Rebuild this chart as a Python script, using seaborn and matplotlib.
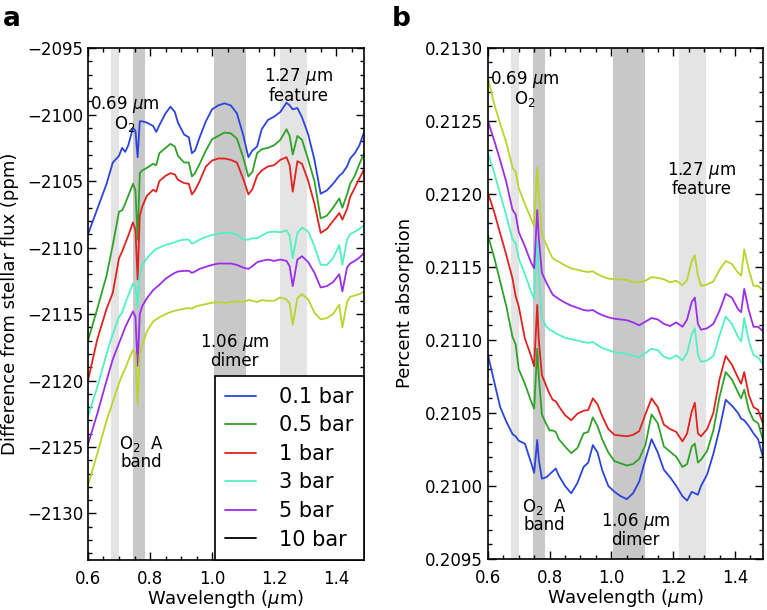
import matplotlib
matplotlib.use("Agg")
import matplotlib.pyplot as plt
import matplotlib.ticker as mticker
from matplotlib.lines import Line2D
import pandas as pd
import seaborn as sns


# Series labels and colours (the legend shows 10 bar in black)
PRESSURES = ["0.1 bar", "0.5 bar", "1 bar", "3 bar", "5 bar", "10 bar"]
LINE_COLORS = ["#2b45dc", "#2fa22a", "#e2221f", "#52f0c3", "#9a2eea", "#b9d52c"]
LEGEND_COLORS = LINE_COLORS[:5] + ["black"]

# Shaded absorption bands (start, end, shade)
BANDS = [(0.675, 0.70, "#e4e4e4"), (0.745, 0.785, "#c8c8c8"),
         (1.005, 1.11, "#c8c8c8"), (1.22, 1.305, "#e4e4e4")]


# Panel a: difference from stellar flux (ppm)
wl_a = [0.60, 0.63, 0.66, 0.68, 0.70, 0.71, 0.72, 0.73, 0.745, 0.753,
        0.76, 0.767, 0.775, 0.79, 0.81, 0.82, 0.83, 0.85, 0.866, 0.88,
        0.89, 0.91, 0.925, 0.935, 0.945, 0.96, 0.98, 1.00, 1.02, 1.04,
        1.06, 1.08, 1.10, 1.117, 1.13, 1.145, 1.16, 1.18, 1.20, 1.22,
        1.24, 1.25, 1.26, 1.275, 1.29, 1.31, 1.33, 1.35, 1.37, 1.39,
        1.41, 1.42, 1.435, 1.445, 1.46, 1.475, 1.49]

a_01 = [-2109.0, -2107.1, -2105.2, -2103.6, -2103.1, -2102.5, -2102.8, -2102.3, -2101.0, -2101.2,
        -2103.2, -2100.5, -2100.5, -2100.6, -2100.85, -2101.3, -2100.8, -2099.9, -2099.4, -2099.8,
        -2100.6, -2101.5, -2101.7, -2102.9, -2102.7, -2101.7, -2100.5, -2099.6, -2099.3, -2099.15,
        -2099.3, -2099.9, -2101.5, -2103.2, -2102.7, -2102.4, -2101.1, -2100.4, -2100.15, -2099.8,
        -2099.1, -2099.3, -2099.6, -2099.5, -2100.2, -2101.5, -2103.4, -2105.95, -2105.7, -2105.2,
        -2104.6, -2104.4, -2103.9, -2103.3, -2102.9, -2102.3, -2101.3]
a_05 = [-2117.0, -2114.6, -2112.1, -2109.8, -2107.3, -2107.2, -2106.7, -2106.1, -2105.2, -2105.7,
        -2109.4, -2104.4, -2104.2, -2104.0, -2103.7, -2103.8, -2102.9, -2102.5, -2102.2, -2102.4,
        -2103.1, -2103.6, -2103.6, -2104.65, -2104.4, -2103.7, -2102.7, -2101.85, -2101.6, -2101.35,
        -2101.4, -2101.8, -2103.2, -2104.65, -2104.3, -2102.9, -2102.6, -2102.5, -2102.3, -2101.9,
        -2101.1, -2101.6, -2103.0, -2101.6, -2101.9, -2103.4, -2105.0, -2107.8, -2107.6, -2107.0,
        -2106.3, -2107.0, -2106.0, -2105.2, -2104.6, -2103.7, -2102.9]
a_1 = [-2120.0, -2116.9, -2114.6, -2113.4, -2110.8, -2110.3, -2109.7, -2109.1, -2108.1, -2108.65,
       -2112.4, -2107.6, -2106.9, -2106.1, -2105.65, -2105.8, -2105.0, -2104.6, -2104.4, -2104.5,
       -2104.9, -2105.15, -2105.2, -2106.0, -2105.7, -2105.0, -2103.9, -2103.45, -2103.3, -2103.3,
       -2103.4, -2103.6, -2104.8, -2106.0, -2105.6, -2104.6, -2104.2, -2103.9, -2103.8, -2103.4,
       -2103.2, -2103.8, -2105.8, -2103.5, -2103.7, -2105.0, -2106.7, -2108.9, -2108.6, -2108.0,
       -2107.4, -2107.9, -2107.1, -2106.2, -2105.5, -2104.8, -2104.1]
a_3 = [-2122.7, -2120.5, -2118.0, -2116.5, -2115.2, -2114.9, -2114.2, -2113.6, -2112.7, -2112.9,
       -2114.5, -2112.0, -2111.3, -2110.8, -2110.3, -2110.1, -2110.0, -2109.8, -2109.7, -2109.6,
       -2109.5, -2109.4, -2109.4, -2109.7, -2109.6, -2109.4, -2109.2, -2109.05, -2108.95, -2108.9,
       -2108.9, -2109.0, -2109.4, -2109.4, -2109.3, -2109.3, -2109.1, -2108.85, -2108.8, -2108.85,
       -2108.7, -2109.1, -2110.8, -2108.9, -2108.5, -2108.8, -2109.9, -2111.3, -2111.3, -2110.8,
       -2109.8, -2111.3, -2109.4, -2109.0, -2108.8, -2108.6, -2108.3]
a_5 = [-2124.8, -2122.5, -2120.0, -2118.4, -2117.2, -2116.6, -2116.0, -2115.5, -2114.8, -2115.2,
       -2118.9, -2115.0, -2114.4, -2113.8, -2113.2, -2113.0, -2112.8, -2112.35, -2112.1, -2111.9,
       -2111.8, -2111.75, -2111.75, -2111.9, -2111.8, -2111.6, -2111.45, -2111.3, -2111.2, -2111.2,
       -2111.2, -2111.3, -2111.5, -2111.6, -2111.4, -2111.1, -2111.0, -2110.9, -2111.0, -2110.9,
       -2111.0, -2111.4, -2112.9, -2110.9, -2110.65, -2111.1, -2111.9, -2113.0, -2112.9, -2112.6,
       -2112.0, -2113.3, -2111.5, -2111.2, -2111.0, -2110.75, -2110.4]
a_10 = [-2127.9, -2125.5, -2123.0, -2121.6, -2120.2, -2119.6, -2119.1, -2118.5, -2117.7, -2118.0,
        -2121.8, -2118.0, -2117.3, -2116.3, -2115.55, -2115.4, -2115.25, -2115.0, -2114.85, -2114.75,
        -2114.7, -2114.6, -2114.55, -2114.6, -2114.45, -2114.35, -2114.25, -2114.15, -2114.1, -2114.15,
        -2114.1, -2114.05, -2114.1, -2113.95, -2114.0, -2114.1, -2113.95, -2114.0, -2114.0, -2113.75,
        -2113.9, -2114.2, -2115.8, -2113.8, -2113.5, -2113.9, -2114.9, -2115.4, -2115.3, -2115.0,
        -2114.3, -2116.0, -2114.1, -2113.7, -2113.6, -2113.5, -2113.3]


# Panel b: percent absorption
wl_b = [0.60, 0.62, 0.64, 0.66, 0.68, 0.69, 0.70, 0.72, 0.74, 0.75,
        0.76, 0.765, 0.775, 0.79, 0.80, 0.81, 0.82, 0.83, 0.85, 0.87,
        0.89, 0.91, 0.925, 0.94, 0.955, 0.97, 0.99, 1.01, 1.03, 1.05,
        1.07, 1.09, 1.11, 1.13, 1.15, 1.17, 1.19, 1.21, 1.23, 1.245,
        1.26, 1.27, 1.28, 1.29, 1.31, 1.33, 1.35, 1.37, 1.39, 1.41,
        1.42, 1.43, 1.445, 1.46, 1.475, 1.49]

b_01 = [0.21090, 0.21072, 0.21054, 0.21044, 0.210355, 0.21034, 0.21031, 0.21029, 0.21016, 0.21009,
        0.210315, 0.21018, 0.21005, 0.21006, 0.21008, 0.21010, 0.21012, 0.21007, 0.21000, 0.20995,
        0.21002, 0.21013, 0.21016, 0.21028, 0.21023, 0.21011, 0.21000, 0.20996, 0.20993, 0.20991,
        0.20995, 0.21003, 0.21018, 0.21032, 0.21023, 0.21011, 0.21006, 0.21000, 0.20993, 0.20990,
        0.20996, 0.20995, 0.20994, 0.21000, 0.21008, 0.21022, 0.21039, 0.21059, 0.21055, 0.21050,
        0.21046, 0.21045, 0.21041, 0.21036, 0.21032, 0.21020]
b_05 = [0.21172, 0.21157, 0.21140, 0.21123, 0.21102, 0.21097, 0.21080, 0.21070, 0.21058, 0.21053,
        0.21094, 0.21075, 0.21049, 0.21042, 0.21038, 0.21038, 0.21037, 0.21032, 0.21027, 0.210225,
        0.21026, 0.21036, 0.21037, 0.21047, 0.21041, 0.21032, 0.21023, 0.21017, 0.210155, 0.21014,
        0.21015, 0.210185, 0.21028, 0.21049, 0.21043, 0.21027, 0.210235, 0.21020, 0.21013, 0.21015,
        0.21027, 0.21029, 0.21016, 0.21018, 0.21024, 0.21038, 0.21061, 0.21078, 0.21073, 0.21064,
        0.21060, 0.21066, 0.21052, 0.21045, 0.21043, 0.21032]
b_1 = [0.21201, 0.21188, 0.21173, 0.21158, 0.21142, 0.21130, 0.21123, 0.21101, 0.21089, 0.21082,
       0.21124, 0.21100, 0.21076, 0.21068, 0.21063, 0.21059, 0.21058, 0.210545, 0.210485, 0.21045,
       0.210495, 0.210515, 0.21052, 0.21060, 0.21056, 0.21048, 0.21039, 0.21035, 0.210345, 0.21034,
       0.21035, 0.210375, 0.21049, 0.21060, 0.21054, 0.21042, 0.21039, 0.21037, 0.210305, 0.21036,
       0.21051, 0.21057, 0.21036, 0.21034, 0.21039, 0.21050, 0.21073, 0.21089, 0.21083, 0.21074,
       0.21070, 0.21078, 0.21062, 0.21054, 0.21052, 0.21043]
b_3 = [0.21228, 0.21215, 0.21200, 0.21185, 0.21169, 0.21166, 0.21156, 0.21145, 0.21133, 0.21128,
       0.21168, 0.21145, 0.21115, 0.21109, 0.21107, 0.21106, 0.211045, 0.211035, 0.211015, 0.211005,
       0.210995, 0.210985, 0.21098, 0.210985, 0.210965, 0.210945, 0.21093, 0.210915, 0.21091, 0.210905,
       0.21089, 0.21088, 0.21091, 0.21094, 0.21093, 0.210885, 0.21087, 0.210895, 0.21086, 0.21091,
       0.21104, 0.21108, 0.21090, 0.21085, 0.21086, 0.21089, 0.21103, 0.21116, 0.21111, 0.21102,
       0.21099, 0.21115, 0.21099, 0.210895, 0.21088, 0.210835]
b_5 = [0.21250, 0.21237, 0.21223, 0.21208, 0.21189, 0.21186, 0.21174, 0.21164, 0.21153, 0.21149,
       0.21189, 0.21170, 0.21146, 0.21139, 0.21135, 0.21131, 0.211295, 0.21128, 0.211255, 0.211235,
       0.21122, 0.211205, 0.21120, 0.211205, 0.211185, 0.21117, 0.211155, 0.211145, 0.21114, 0.211135,
       0.21112, 0.21110, 0.211125, 0.21115, 0.21114, 0.21111, 0.211095, 0.21112, 0.21109, 0.21114,
       0.21126, 0.21129, 0.21111, 0.21107, 0.21108, 0.21111, 0.21120, 0.211315, 0.21129, 0.21121,
       0.21119, 0.21135, 0.21120, 0.21109, 0.21109, 0.21106]
b_10 = [0.21280, 0.21262, 0.21248, 0.21235, 0.21218, 0.21215, 0.21204, 0.21193, 0.21183, 0.21178,
        0.21218, 0.21200, 0.21172, 0.21165, 0.21160, 0.21156, 0.211545, 0.211535, 0.21151, 0.21149,
        0.21148, 0.21147, 0.211465, 0.21147, 0.21145, 0.211435, 0.21142, 0.211415, 0.211415, 0.21141,
        0.211395, 0.211395, 0.211405, 0.21143, 0.211425, 0.211415, 0.211395, 0.211405, 0.211375, 0.21141,
        0.21154, 0.21158, 0.21144, 0.21137, 0.21138, 0.21140, 0.21148, 0.21154, 0.21152, 0.21146,
        0.21144, 0.21162, 0.21148, 0.21137, 0.21137, 0.21134]


def long_frame(wl, series):
    rows = []
    for label, ys in zip(PRESSURES, series):
        for x, y in zip(wl, ys):
            rows.append((x, y, label))
    return pd.DataFrame(rows, columns=["wavelength", "value", "pressure"])


def style_axis(ax):
    for lo, hi, shade in BANDS:
        ax.axvspan(lo, hi, color=shade, lw=0, zorder=0)
    ax.set_xlim(0.6, 1.49)
    ax.xaxis.set_major_locator(mticker.MultipleLocator(0.2))
    ax.xaxis.set_minor_locator(mticker.MultipleLocator(0.05))
    ax.xaxis.set_major_formatter(mticker.FormatStrFormatter("%.1f"))
    ax.tick_params(which="both", direction="in", top=True, right=True,
                   labelsize=12, width=1, color="black", labelcolor="black")
    ax.tick_params(which="major", length=6)
    ax.tick_params(which="minor", length=3)
    ax.tick_params(axis="x", pad=7)
    for sp in ax.spines.values():
        sp.set_visible(True)
        sp.set_color("black")
        sp.set_linewidth(1.2)
    ax.set_xlabel(r"Wavelength ($\mu$m)", fontsize=13, labelpad=0)


def annotate(ax, x, y, text):
    ax.text(x, y, text, ha="center", va="center", multialignment="center",
            fontsize=12, linespacing=0.95, zorder=5)


sns.set_style("ticks")
plt.rcParams["font.family"] = ["DejaVu Sans"]
plt.rcParams["mathtext.fontset"] = "dejavusans"
plt.rcParams["text.color"] = "black"
plt.rcParams["axes.labelcolor"] = "black"

fig = plt.figure(figsize=(7.67, 6.10), dpi=100)
ax_a = fig.add_axes([0.1147, 0.082, 0.360, 0.839])
ax_b = fig.add_axes([0.636, 0.0836, 0.3585, 0.838])

palette = dict(zip(PRESSURES, LINE_COLORS))

df_a = long_frame(wl_a, [a_01, a_05, a_1, a_3, a_5, a_10])
sns.lineplot(data=df_a, x="wavelength", y="value", hue="pressure",
             hue_order=PRESSURES, palette=palette, estimator=None,
             lw=1.3, legend=False, ax=ax_a)

df_b = long_frame(wl_b, [b_01, b_05, b_1, b_3, b_5, b_10])
sns.lineplot(data=df_b, x="wavelength", y="value", hue="pressure",
             hue_order=PRESSURES, palette=palette, estimator=None,
             lw=1.3, legend=False, ax=ax_b)

# Panel a axes
style_axis(ax_a)
ax_a.set_ylim(-2133.5, -2095)
ax_a.yaxis.set_major_locator(mticker.MultipleLocator(5))
ax_a.yaxis.set_minor_locator(mticker.MultipleLocator(1))
ax_a.set_ylabel("Difference from stellar flux (ppm)", fontsize=13)
ax_a.yaxis.set_label_coords(-0.25, 0.5)

annotate(ax_a, 0.719, -2099.95, "0.69 $\\mu$m\nO$_2$")
annotate(ax_a, 1.278, -2097.8, "1.27 $\\mu$m\nfeature")
annotate(ax_a, 1.073, -2117.8, "1.06 $\\mu$m\ndimer")
annotate(ax_a, 0.771, -2125.4, "O$_2$  A\nband")

handles = [Line2D([], [], color=c, lw=1.3) for c in LEGEND_COLORS]
leg = ax_a.legend(handles, PRESSURES, loc="lower right", fontsize=15,
                  frameon=True, fancybox=False, framealpha=1,
                  edgecolor="black", borderaxespad=0, borderpad=0.5,
                  handlelength=1.5, handletextpad=1.1, labelspacing=0.41)
leg.get_frame().set_linewidth(1.2)
leg.set_zorder(10)

# Panel b axes
style_axis(ax_b)
ax_b.set_ylim(0.2095, 0.2130)
ax_b.yaxis.set_major_locator(mticker.MultipleLocator(0.0005))
ax_b.yaxis.set_minor_locator(mticker.MultipleLocator(0.0001))
ax_b.yaxis.set_major_formatter(mticker.FormatStrFormatter("%.4f"))
ax_b.set_ylabel("Percent absorption", fontsize=13)
ax_b.yaxis.set_label_coords(-0.27, 0.5)

annotate(ax_b, 0.7185, 0.21272, "0.69 $\\mu$m\nO$_2$")
annotate(ax_b, 1.292, 0.21210, "1.27 $\\mu$m\nfeature")
annotate(ax_b, 0.783, 0.20980, "O$_2$  A\nband")
annotate(ax_b, 1.078, 0.20970, "1.06 $\\mu$m\ndimer")

fig.text(0.004, 0.99, "a", fontsize=19, fontweight="bold", va="top")
fig.text(0.511, 0.99, "b", fontsize=19, fontweight="bold", va="top")

fig.savefig("out.png", dpi=100)
